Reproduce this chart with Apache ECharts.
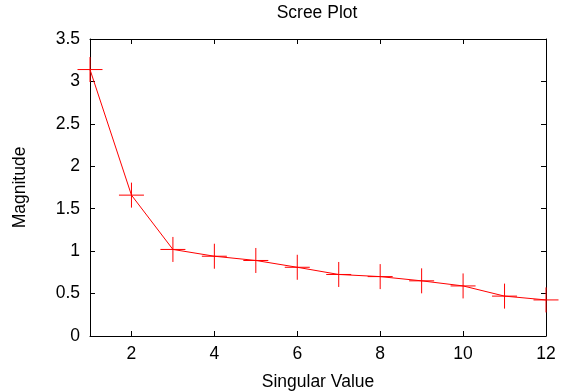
<!DOCTYPE html>
<html>
<head>
<meta charset="utf-8">
<script src="https://cdn.jsdelivr.net/npm/echarts@6/dist/echarts.min.js"></script>
<style>
html,body{margin:0;padding:0;background:#fff;}
#chart{width:568px;height:391px;}
</style>
</head>
<body>
<div id="chart"></div>
<script>
var singularValues = [1, 2, 3, 4, 5, 6, 7, 8, 9, 10, 11, 12];
var magnitudes = [3.14, 1.66, 1.02, 0.94, 0.89, 0.81, 0.725, 0.70, 0.65, 0.59, 0.47, 0.425];
var xTicks = [2, 4, 6, 8, 10, 12];
var yTicks = [0, 0.5, 1, 1.5, 2, 2.5, 3, 3.5];

var FONT = 'Liberation Sans, Arial, sans-serif';
var FS = 17.5;
var points = singularValues.map(function (x, i) { return [x, magnitudes[i]]; });

var chart = echarts.init(document.getElementById('chart'), null, {renderer: 'canvas'});

function mirrorX(pos, show) {
  return {
    type: 'value', position: pos, min: 1, max: 12,
    axisLine: {show: true, onZero: false, lineStyle: {color: '#000', width: 1}},
    axisTick: {show: true, inside: true, length: 5, customValues: xTicks, lineStyle: {color: '#000'}},
    axisLabel: {show: show, customValues: xTicks, margin: 9, color: '#000', fontFamily: FONT, fontSize: FS},
    splitLine: {show: false}
  };
}
function mirrorY(pos, show) {
  return {
    type: 'value', position: pos, min: 0, max: 3.5, interval: 0.5,
    axisLine: {show: true, onZero: false, lineStyle: {color: '#000', width: 1}},
    axisTick: {show: true, inside: true, length: 5, lineStyle: {color: '#000'}},
    axisLabel: {show: show, margin: 10, color: '#000', fontFamily: FONT, fontSize: FS},
    splitLine: {show: false}
  };
}

var xBottom = mirrorX('bottom', true);
xBottom.name = 'Singular Value';
xBottom.nameLocation = 'middle';
xBottom.nameGap = 37;
xBottom.nameTextStyle = {color: '#000', fontFamily: FONT, fontSize: FS};
var yLeft = mirrorY('left', true);
yLeft.name = 'Magnitude';
yLeft.nameLocation = 'middle';
yLeft.nameGap = 61;
yLeft.nameTextStyle = {color: '#000', fontFamily: FONT, fontSize: FS};

var option = {
  animation: false,
  backgroundColor: '#fff',
  graphic: [{
    type: 'text', x: 317, y: 13.5,
    style: {text: 'Scree Plot', fill: '#000', font: FS + 'px ' + FONT, textAlign: 'center', textVerticalAlign: 'middle'}
  }],
  grid: {left: 90, right: 22, top: 39, bottom: 55, containLabel: false, outerBoundsMode: 'none'},
  xAxis: [xBottom, mirrorX('top', false)],
  yAxis: [yLeft, mirrorY('right', false)],
  series: [
    {
      type: 'line', data: points, xAxisIndex: 0, yAxisIndex: 0,
      showSymbol: false, symbol: 'none',
      lineStyle: {color: '#ff0000', width: 1}, clip: false, z: 3
    },
    {
      type: 'custom', data: points, xAxisIndex: 0, yAxisIndex: 0, clip: false, z: 4,
      renderItem: function (params, api) {
        var p = api.coord([api.value(0), api.value(1)]);
        var h = 12.5;
        var st = {stroke: '#ff0000', lineWidth: 1};
        return {
          type: 'group',
          children: [
            {type: 'line', shape: {x1: p[0] - h, y1: p[1], x2: p[0] + h, y2: p[1]}, style: st},
            {type: 'line', shape: {x1: p[0], y1: p[1] - h, x2: p[0], y2: p[1] + h}, style: st}
          ]
        };
      }
    }
  ]
};
chart.setOption(option);
</script>
</body>
</html>
